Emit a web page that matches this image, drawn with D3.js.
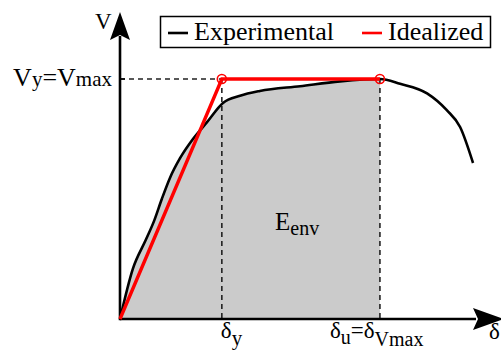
<!DOCTYPE html>
<html>
<head>
<meta charset="utf-8">
<script src="https://cdn.jsdelivr.net/npm/d3@7"></script>
<style>
  body { margin: 0; background: #fff; }
</style>
</head>
<body>
<svg id="chart" width="501" height="354"></svg>
<script>
// Experimental capacity curve (displacement, normalized shear)
const expDisp  = [0, 3.4, 6.8, 9.0, 11.0, 13.2, 15.8, 19.2, 22.9, 27.1, 31.6, 36.8, 47.4, 57.9, 68.4, 73.7, 80.8, 86.0, 89.5, 92.9];
const expShear = [0, 0.21, 0.33, 0.41, 0.50, 0.59, 0.67, 0.75, 0.82, 0.90, 0.93, 0.95, 0.97, 0.99, 1.00, 0.98, 0.94, 0.87, 0.80, 0.65];

// Idealized bilinear curve
const idealDisp  = [0, 26.8, 68.4];
const idealShear = [0, 1.0, 1.0];

const dispYield = 26.8;   // δy
const dispUlt   = 68.4;   // δu = δVmax
const shearMax  = 1.0;    // Vy = Vmax

const legendLabels = ["Experimental", "Idealized"];
const legendColors = ["#000", "#ff0000"];

const FONT = "Liberation Serif";

const svg = d3.select("#chart");
const x = d3.scaleLinear().domain([0, 100]).range([120, 500]);
const y = d3.scaleLinear().domain([0, 1.2]).range([319, 31]);

const expData = expDisp.map((d, i) => ({ d, v: expShear[i] }));
const idealData = idealDisp.map((d, i) => ({ d, v: idealShear[i] }));

const curve = d3.curveMonotoneX;
const lineGen = d3.line().x(p => x(p.d)).y(p => y(p.v)).curve(curve);

// Envelope energy area under the experimental curve up to δu
const areaData = expData.filter(p => p.d <= dispUlt);
svg.append("path")
  .attr("d", d3.area().x(p => x(p.d)).y0(y(0)).y1(p => y(p.v)).curve(curve)(areaData))
  .attr("fill", "#cbcbcb");

// Reference dashed lines
const dash = svg.append("g").attr("stroke", "#222").attr("stroke-width", 1.6).attr("stroke-dasharray", "5,4").attr("fill", "none");
dash.append("line").attr("x1", x(0)).attr("x2", x(dispYield)).attr("y1", y(shearMax)).attr("y2", y(shearMax));
dash.append("line").attr("x1", x(dispYield)).attr("x2", x(dispYield)).attr("y1", y(shearMax)).attr("y2", y(0));
dash.append("line").attr("x1", x(dispUlt)).attr("x2", x(dispUlt)).attr("y1", y(shearMax)).attr("y2", y(0));

// Axes with arrowheads
const axes = svg.append("g");
axes.append("line").attr("x1", x(0)).attr("x2", 476).attr("y1", y(0)).attr("y2", y(0)).attr("stroke", "#000").attr("stroke-width", 2.6);
axes.append("line").attr("x1", x(0)).attr("x2", x(0)).attr("y1", y(0) + 1.3).attr("y2", 36).attr("stroke", "#000").attr("stroke-width", 2.6);
axes.append("line").attr("x1", x(0)).attr("x2", x(0) + 5).attr("y1", y(shearMax)).attr("y2", y(shearMax)).attr("stroke", "#000").attr("stroke-width", 1.5);
axes.append("path").attr("d", `M${x(0)},12 L${x(0) + 10},40 L${x(0)},35 L${x(0) - 10},40 Z`).attr("fill", "#000");
axes.append("path").attr("d", `M504,${y(0)} L473,${y(0) - 11} L478,${y(0)} L473,${y(0) + 11} Z`).attr("fill", "#000");

// Experimental curve
svg.append("path").attr("d", lineGen(expData)).attr("fill", "none").attr("stroke", "#000").attr("stroke-width", 2.6);

// Idealized curve
svg.append("path")
  .attr("d", d3.line().x(p => x(p.d)).y(p => y(p.v))(idealData))
  .attr("fill", "none").attr("stroke", "#ff0000").attr("stroke-width", 3.4).attr("stroke-linejoin", "miter");

svg.selectAll("circle.mark").data(idealData.slice(1)).enter().append("circle")
  .attr("class", "mark").attr("cx", p => x(p.d)).attr("cy", p => y(p.v)).attr("r", 4.5)
  .attr("fill", "none").attr("stroke", "#ff0000").attr("stroke-width", 1.6);

// Labels
function label(px, py, size) {
  return svg.append("text").attr("x", px).attr("y", py).attr("font-size", size)
    .attr("font-family", FONT).attr("fill", "#000");
}
label(95, 29, 23).text("V");

const vy = label(112, 86, 26).attr("text-anchor", "end");
vy.append("tspan").text("V");
vy.append("tspan").attr("font-size", 21).text("y");
vy.append("tspan").text("=V");
vy.append("tspan").attr("font-size", 21).text("max");

const dy = label(x(dispYield) - 1, 338, 23);
dy.append("tspan").text("δ");
dy.append("tspan").attr("font-size", 21).attr("dy", 7).text("y");

const du = label(x(dispUlt) - 50, 338, 23);
du.append("tspan").text("δ");
du.append("tspan").attr("font-size", 20).attr("dy", 6).text("u");
du.append("tspan").attr("dy", -6).text("=δ");
du.append("tspan").attr("font-size", 20).attr("dy", 8).text("Vmax");

label(489, 339, 23).text("δ");

const e = label(275, 230, 25);
e.append("tspan").text("E");
e.append("tspan").attr("font-size", 20).attr("dy", 5).text("env");

// Legend
const lg = svg.append("g");
lg.append("rect").attr("x", 160.5).attr("y", 16.5).attr("width", 330).attr("height", 31)
  .attr("fill", "#fff").attr("stroke", "#000").attr("stroke-width", 1.5);
const lgX = [168, 362];
legendLabels.forEach((lab, i) => {
  lg.append("line").attr("x1", lgX[i]).attr("x2", lgX[i] + 20).attr("y1", 33).attr("y2", 33)
    .attr("stroke", legendColors[i]).attr("stroke-width", 2.6);
  label(lgX[i] + 26, 40, 26).text(lab);
});
</script>
</body>
</html>
